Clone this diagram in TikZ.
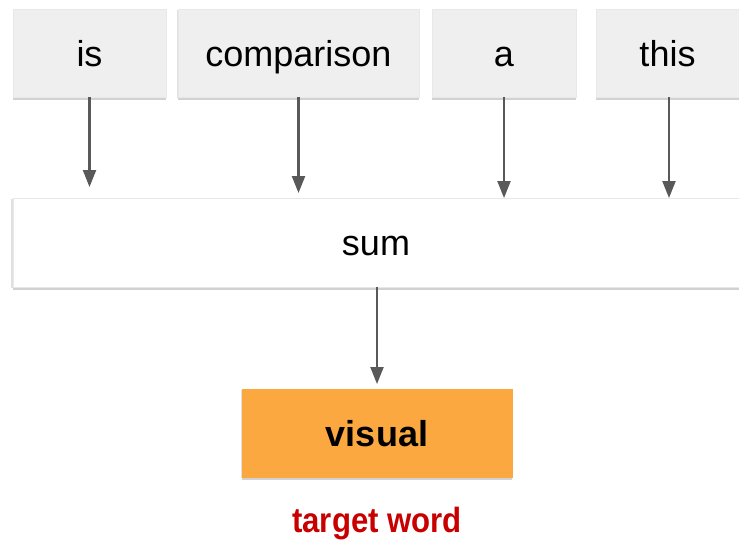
\documentclass[tikz,border=0pt]{standalone}
\usepackage{fontspec}
\setmainfont{Liberation Sans}
\usetikzlibrary{arrows.meta,shadows,calc}
\definecolor{boxgray}{RGB}{239,239,239}
\definecolor{arrowgray}{RGB}{89,89,89}
\definecolor{boxorange}{RGB}{252,168,64}
\definecolor{targetred}{RGB}{200,0,0}
\tikzset{
  boxshadow/.style={
    general shadow={shadow xshift=0pt,shadow yshift=-1pt,shadow scale=1.006,opacity=0.12,fill=black},
    drop shadow={shadow xshift=0pt,shadow yshift=-3pt,opacity=0.25,fill=black!70}},
  basebox/.style={draw=black!9,line width=0.5pt,inner sep=0pt,outer sep=0pt,text height=33pt,text depth=7pt,boxshadow},
  wordbox/.style={basebox,fill=boxgray,minimum height=88pt,font=\fontsize{36}{40}\selectfont},
  sumbox/.style={basebox,fill=white,minimum height=89pt,font=\fontsize{36}{40}\selectfont},
  outbox/.style={basebox,fill=boxorange,draw=boxorange,minimum height=88pt,minimum width=270pt,text height=34pt,font=\bfseries\fontsize{36}{40}\selectfont},
  conn/.style={draw=arrowgray,line width=2.2pt,-{Triangle[width=13pt,length=17pt]}},
  lbl/.style={text=targetred,font=\bfseries\fontsize{35}{40}\selectfont,inner sep=0pt}
}
\begin{document}
\begin{tikzpicture}[x=1pt,y=-1pt]
\useasboundingbox (0,0) rectangle (739,544);
\fill[white] (0,0) rectangle (739,544);
\node[wordbox,minimum width=153pt] (is) at (89.5,53) {is};
\node[wordbox,minimum width=241pt] (comparison) at (298.5,53) {comparison};
\node[wordbox,minimum width=144pt] (a) at (504,53) {a};
\node[wordbox,minimum width=146pt] (this) at (669,53) {\hspace*{-3pt}this};
\node[sumbox,minimum width=735pt] (sum) at (380.5,242.5) {\hspace*{-9pt}sum};
\node[outbox] (visual) at (377,433) {visual};
\node[lbl] (target) at (377,524) {\scalebox{0.89}[1]{target word}};
\draw[conn,shorten >=11pt] (is.south) -- (is.south |- sum.north);
\draw[conn,shorten >=5pt] (comparison.south) -- (comparison.south |- sum.north);
\draw[conn] (a.south) -- (a.south |- sum.north);
\draw[conn] (this.south) -- (this.south |- sum.north);
\draw[conn,shorten >=5pt] (sum.south -| visual.north) -- (visual.north);
\end{tikzpicture}
\end{document}
